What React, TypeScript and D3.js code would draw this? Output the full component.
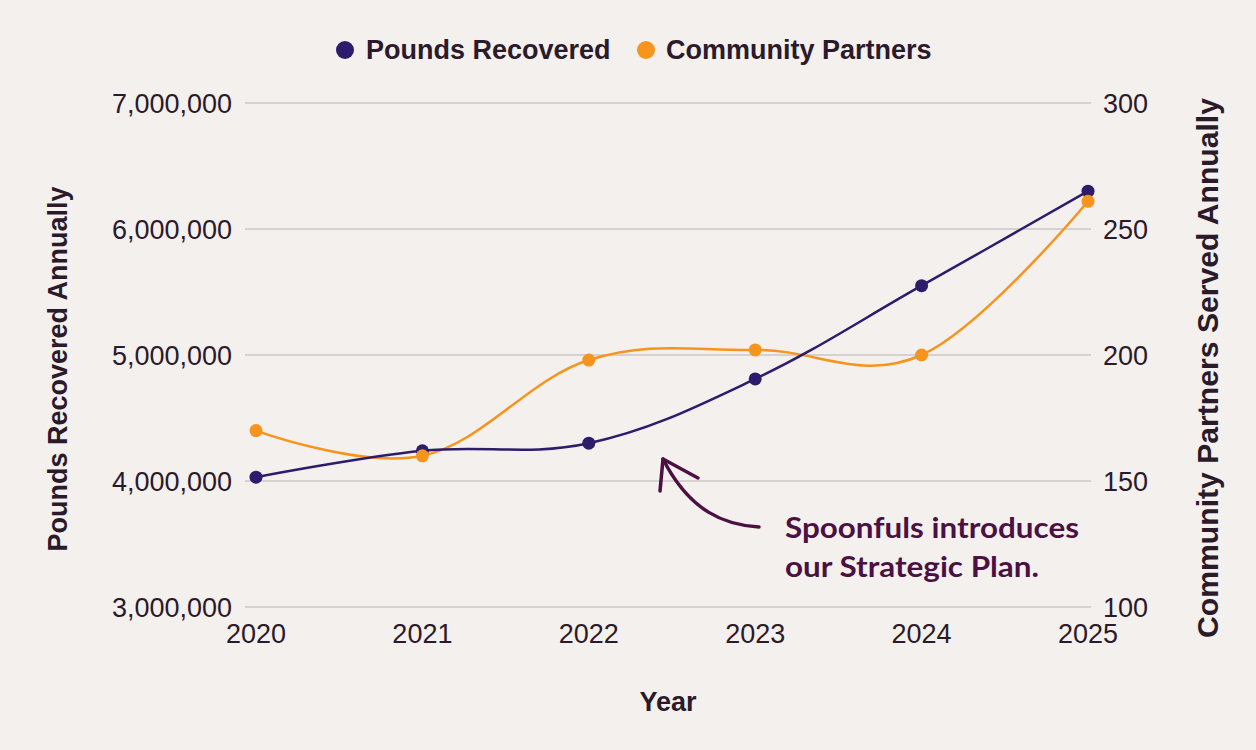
import React from "react";
import * as d3 from "d3";

const years = [2020, 2021, 2022, 2023, 2024, 2025];
const poundsRecovered = [4030000, 4240000, 4300000, 4810000, 5550000, 6300000];
const communityPartners = [170, 160, 198, 202, 200, 261];
const leftTicks = [3000000, 4000000, 5000000, 6000000, 7000000];
const rightTicks = [100, 150, 200, 250, 300];
const legendLabels = ["Pounds Recovered", "Community Partners"];
const annotationLines = ["Spoonfuls introduces", "our Strategic Plan."];

const W = 1256;
const H = 750;
const NAVY = "#2d1b6b";
const ORANGE = "#f7941d";
const TEXT = "#2b1a2a";
const ANNO = "#4a1142";
const BG = "#f4f0ee";
const GRID = "#cbc7c6";
const FONT = "'Liberation Sans', Arial, sans-serif";
const FS = 27;

export default function App() {
  const x = d3.scaleLinear().domain([2020, 2025]).range([256, 1088]);
  const yL = d3.scaleLinear().domain([3000000, 7000000]).range([607, 103]);
  const yR = d3.scaleLinear().domain([100, 300]).range([607, 103]);
  const fmt = d3.format(",");
  const curve = d3.curveCardinal.tension(-0.1);

  const lineL = d3
    .line<number>()
    .x((_, i) => x(years[i]))
    .y((d) => yL(d))
    .curve(curve);
  const lineR = d3
    .line<number>()
    .x((_, i) => x(years[i]))
    .y((d) => yR(d))
    .curve(curve);

  return (
    <svg
      width={W}
      height={H}
      style={{ position: "absolute", left: 0, top: 0, background: BG }}
    >
      <rect x={0} y={0} width={W} height={H} fill={BG} />
      {leftTicks.map((t) => (
        <line
          key={"g" + t}
          x1={245}
          x2={1091}
          y1={yL(t)}
          y2={yL(t)}
          stroke={GRID}
          strokeWidth={1.3}
        />
      ))}
      {leftTicks.map((t) => (
        <text
          key={"l" + t}
          x={232}
          y={yL(t)}
          dy="0.36em"
          textAnchor="end"
          fontFamily={FONT}
          fontSize={FS}
          fill={TEXT}
        >
          {fmt(t)}
        </text>
      ))}
      {rightTicks.map((t) => (
        <text
          key={"r" + t}
          x={1103}
          y={yR(t)}
          dy="0.36em"
          textAnchor="start"
          fontFamily={FONT}
          fontSize={FS}
          fill={TEXT}
        >
          {t}
        </text>
      ))}
      {years.map((yv) => (
        <text
          key={"x" + yv}
          x={x(yv)}
          y={643}
          textAnchor="middle"
          fontFamily={FONT}
          fontSize={FS}
          fill={TEXT}
        >
          {yv}
        </text>
      ))}
      <text
        x={668}
        y={711}
        textAnchor="middle"
        fontFamily={FONT}
        fontWeight="bold"
        fontSize={FS}
        fill={TEXT}
      >
        Year
      </text>
      <text
        transform="translate(67,369) rotate(-90)"
        textAnchor="middle"
        fontFamily={FONT}
        fontWeight="bold"
        fontSize={FS}
        fill={TEXT}
      >
        Pounds Recovered Annually
      </text>
      <text
        transform="translate(1218,368) rotate(-90)"
        textAnchor="middle"
        fontFamily={FONT}
        fontWeight="bold"
        fontSize={29}
        fill={TEXT}
        textLength={540}
        lengthAdjust="spacingAndGlyphs"
      >
        Community Partners Served Annually
      </text>
      <circle cx={345} cy={50} r={9} fill={NAVY} />
      <text
        x={366}
        y={59}
        fontFamily={FONT}
        fontWeight="bold"
        fontSize={FS}
        fill={TEXT}
      >
        {legendLabels[0]}
      </text>
      <circle cx={646} cy={50} r={9} fill={ORANGE} />
      <text
        x={666}
        y={59}
        fontFamily={FONT}
        fontWeight="bold"
        fontSize={FS}
        fill={TEXT}
      >
        {legendLabels[1]}
      </text>
      <path
        d={lineR(communityPartners) || ""}
        fill="none"
        stroke={ORANGE}
        strokeWidth={2.5}
      />
      <path
        d={lineL(poundsRecovered) || ""}
        fill="none"
        stroke={NAVY}
        strokeWidth={2.5}
      />
      {poundsRecovered.map((v, i) => (
        <circle key={"p" + i} cx={x(years[i])} cy={yL(v)} r={6.5} fill={NAVY} />
      ))}
      {communityPartners.map((v, i) => (
        <circle key={"c" + i} cx={x(years[i])} cy={yR(v)} r={6.5} fill={ORANGE} />
      ))}
      <path
        d="M759,527 C725,525 690,512 663,459"
        fill="none"
        stroke={ANNO}
        strokeWidth={3.5}
        strokeLinecap="round"
      />
      <path
        d="M660,491 L663,459 L698,478"
        fill="none"
        stroke={ANNO}
        strokeWidth={3.5}
        strokeLinecap="round"
        strokeLinejoin="round"
      />
      {annotationLines.map((l, i) => (
        <text
          key={"a" + i}
          x={785}
          y={538 + i * 39}
          fontFamily="Lato, 'Open Sans', sans-serif"
          fontWeight="bold"
          fontSize={28}
          fill={ANNO}
          textLength={i === 0 ? 294 : 254}
          lengthAdjust="spacingAndGlyphs"
        >
          {l}
        </text>
      ))}
    </svg>
  );
}
